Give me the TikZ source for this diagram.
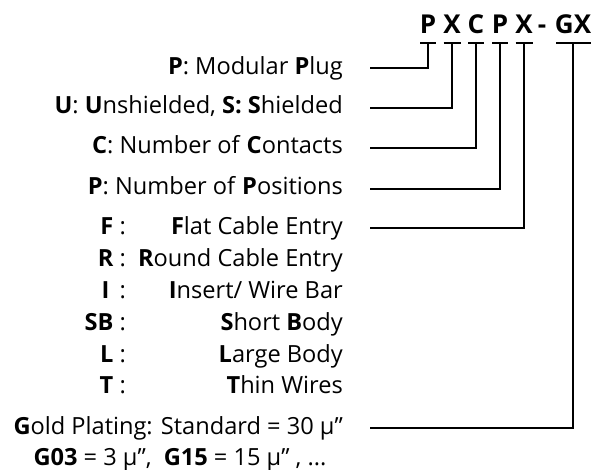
\documentclass[tikz,border=0pt]{standalone}
\usepackage{fontspec}
\setmainfont{Open Sans}
\usetikzlibrary{positioning}

\begin{document}
\begin{tikzpicture}[x=1pt,y=-1pt,
    wire/.style={line width=2.4pt,line join=miter},
    key/.style={font=\fontsize{26}{30}\selectfont\bfseries,anchor=base,inner sep=0pt},
    desc/.style={font=\fontsize{23.6}{28}\selectfont,anchor=base east,inner sep=0pt}]
  \useasboundingbox (0,0) rectangle (593,470);
  % code letters
  \node[key] (kP1) at (428,34) {P};
  \node[key] (kX1) at (452,34) {X};
  \node[key] (kC)  at (476,34) {C};
  \node[key] (kP2) at (500,34) {P};
  \node[key] (kX2) at (524,34) {X};
  \node[key] (kDash) at (542,34) {-};
  \node[key] (kGX) at (573,34) {GX};
  \coordinate (bP1) at (428,43);
  \coordinate (bX1) at (452,43);
  \coordinate (bC)  at (476,43);
  \coordinate (bP2) at (500,43);
  \coordinate (bX2) at (524,43);
  \coordinate (bGX) at (573,43);
  \draw[wire] ([xshift=-8pt]bP1) -- ([xshift=8pt]bP1);
  \draw[wire] ([xshift=-8.5pt]bX1) -- ([xshift=8.5pt]bX1);
  \draw[wire] ([xshift=-8pt]bC) -- ([xshift=8pt]bC);
  \draw[wire] ([xshift=-8pt]bP2) -- ([xshift=8pt]bP2);
  \draw[wire] ([xshift=-8.5pt]bX2) -- ([xshift=8.5pt]bX2);
  \draw[wire] ([xshift=-17pt]bGX) -- ([xshift=18pt]bGX);
  % descriptions
  \node[desc] (dPlug) at (343,75) {\textbf{P}: Modular \textbf{P}lug};
  \node[desc] (dShield) at (343,114) {\textbf{U}: \textbf{U}nshielded, \textbf{S:} \textbf{S}hielded};
  \node[desc] (dCont) at (343,154) {\textbf{C}: Number of \textbf{C}ontacts};
  \node[desc] (dPos) at (343,194) {\textbf{P}: Number of \textbf{P}ositions};
  \node[desc] (tF)  at (126,234) {\textbf{F} :};
  \node[desc] (dF)  at (343,234) {\textbf{F}lat Cable Entry};
  \node[desc] (tR)  at (126,266) {\textbf{R} :};
  \node[desc] (dR)  at (343,266) {\textbf{R}ound Cable Entry};
  \node[desc] (tI)  at (126,298) {\textbf{I} \,:};
  \node[desc] (dI)  at (343,298) {\textbf{I}nsert/ Wire Bar};
  \node[desc] (tSB) at (126,330) {\textbf{SB} :};
  \node[desc] (dSB) at (343,330) {\textbf{S}hort \textbf{B}ody};
  \node[desc] (tL)  at (126,362) {\textbf{L} :};
  \node[desc] (dL)  at (343,362) {\textbf{L}arge Body};
  \node[desc] (tT)  at (126,393) {\textbf{T} :};
  \node[desc] (dT)  at (343,393) {\textbf{T}hin Wires};
  \node[desc] (dGold) at (343,434) {\textbf{G}old Plating: Standard = 30 µ”};
  \node[desc,anchor=base] (dGopt) at (180,465) {\textbf{G03} = 3 µ”,\ \ \textbf{G15} = 15 µ” , ...};
  % leaders
  \coordinate (sP1) at (370,68);
  \coordinate (sX1) at (370,108);
  \coordinate (sC)  at (370,148);
  \coordinate (sP2) at (370,189);
  \coordinate (sX2) at (370,228);
  \coordinate (sGX) at (370,428);
  \draw[wire] (sP1) -| (bP1);
  \draw[wire] (sX1) -| (bX1);
  \draw[wire] (sC)  -| (bC);
  \draw[wire] (sP2) -| (bP2);
  \draw[wire] (sX2) -| (bX2);
  \draw[wire] (sGX) -| (bGX);
\end{tikzpicture}
\end{document}
